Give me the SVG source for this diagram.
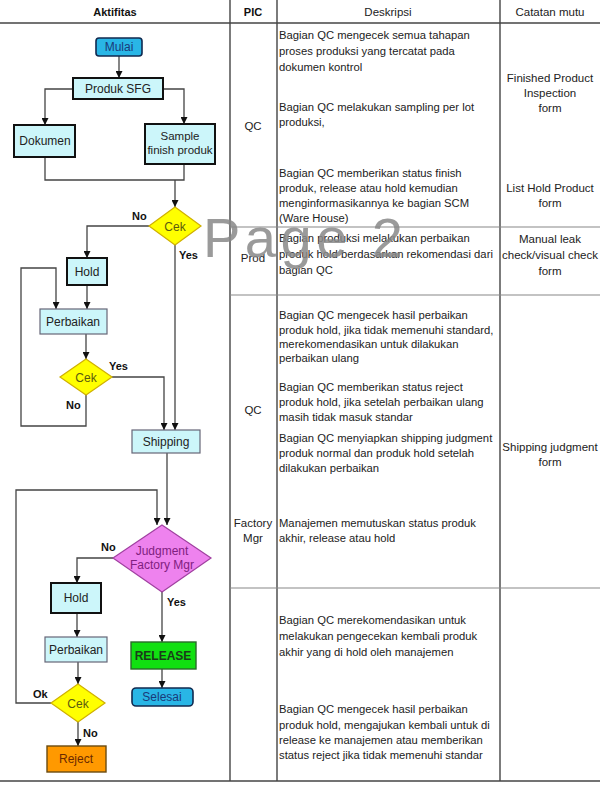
<svg xmlns="http://www.w3.org/2000/svg" width="600" height="812" viewBox="0 0 600 812">
<style>
text{font-family:"Liberation Sans",Arial,sans-serif;}
.hd{font-size:11px;font-weight:bold;fill:#111;text-anchor:middle;}
.hn{font-size:11.5px;fill:#222;text-anchor:middle;}
.d{font-size:11.25px;fill:#222;}
.c{font-size:11.5px;fill:#222;text-anchor:middle;}
.grid{stroke:#444;stroke-width:1.4;fill:none;}
.row{stroke:#888;stroke-width:1.2;fill:none;}
.box{fill:#ccf6fa;stroke:#111;stroke-width:2;}
.boxt{fill:#ccf6fa;stroke:#667;stroke-width:1.2;}
.term{fill:#29b6e6;stroke:#102a50;stroke-width:1.6;}
.dia{fill:#ffff00;stroke:#d0b000;stroke-width:1.2;}
.nt{font-size:12px;fill:#222;text-anchor:middle;}
.tt{font-size:12px;fill:#1a3a7a;text-anchor:middle;}
.ct{font-size:12px;fill:#5a5a10;text-anchor:middle;}
.lb{font-size:11px;font-weight:bold;fill:#111;}
.conn{stroke:#444;stroke-width:1.3;fill:none;}
</style>
<defs>
<marker id="ah" markerUnits="userSpaceOnUse" markerWidth="7" markerHeight="7" refX="7" refY="3.5" orient="auto">
<path d="M0,0 L7,3.5 L0,7 z" fill="#111"/>
</marker>
</defs>
<rect width="600" height="812" fill="#fff"/>

<g id="table">
<line class="grid" x1="0" y1="23" x2="600" y2="23"/>
<line class="grid" x1="0" y1="781" x2="600" y2="781"/>
<line class="grid" x1="230" y1="0" x2="230" y2="781"/>
<line class="grid" x1="277" y1="0" x2="277" y2="781"/>
<line class="grid" x1="500" y1="0" x2="500" y2="781"/>
<line class="row" x1="230" y1="227" x2="600" y2="227"/>
<line class="row" x1="230" y1="295" x2="600" y2="295"/>
<line class="row" x1="230" y1="588" x2="600" y2="588"/>
<text class="hd" x="115" y="16">Aktifitas</text>
<text class="hd" x="253" y="16">PIC</text>
<text class="hn" x="388" y="16">Deskripsi</text>
<text class="hn" x="550" y="16">Catatan mutu</text>
</g>

<g id="pic">
<text class="c" x="253" y="130">QC</text>
<text class="c" x="253" y="262">Prod</text>
<text class="c" x="253" y="414">QC</text>
<text class="c" x="253" y="527">Factory</text>
<text class="c" x="253" y="542">Mgr</text>
</g>

<g id="deskripsi">
<text class="d" x="279" y="39">Bagian QC mengecek semua tahapan</text>
<text class="d" x="279" y="55">proses produksi yang tercatat pada</text>
<text class="d" x="279" y="71">dokumen kontrol</text>
<text class="d" x="279" y="111">Bagian QC melakukan sampling per lot</text>
<text class="d" x="279" y="126">produksi,</text>
<text class="d" x="279" y="177">Bagian QC memberikan status finish</text>
<text class="d" x="279" y="192">produk, release atau hold kemudian</text>
<text class="d" x="279" y="207">menginformasikannya ke bagian SCM</text>
<text class="d" x="279" y="222">(Ware House)</text>
<text class="d" x="279" y="242">Bagian produksi melakukan perbaikan</text>
<text class="d" x="279" y="258">produk hold berdasarkan rekomendasi dari</text>
<text class="d" x="279" y="274">bagian QC</text>
<text class="d" x="279" y="319">Bagian QC mengecek hasil perbaikan</text>
<text class="d" x="279" y="334">produk hold, jika tidak memenuhi standard,</text>
<text class="d" x="279" y="348">merekomendasikan untuk dilakukan</text>
<text class="d" x="279" y="362">perbaikan ulang</text>
<text class="d" x="279" y="391">Bagian QC memberikan status reject</text>
<text class="d" x="279" y="406">produk hold, jika setelah perbaikan ulang</text>
<text class="d" x="279" y="421">masih tidak masuk standar</text>
<text class="d" x="279" y="442">Bagian QC menyiapkan shipping judgment</text>
<text class="d" x="279" y="457">produk normal dan produk hold setelah</text>
<text class="d" x="279" y="472">dilakukan perbaikan</text>
<text class="d" x="279" y="527">Manajemen memutuskan status produk</text>
<text class="d" x="279" y="542">akhir, release atau hold</text>
<text class="d" x="279" y="624">Bagian QC merekomendasikan untuk</text>
<text class="d" x="279" y="640">melakukan pengecekan kembali produk</text>
<text class="d" x="279" y="656">akhir yang di hold oleh manajemen</text>
<text class="d" x="279" y="713">Bagian QC mengecek hasil perbaikan</text>
<text class="d" x="279" y="729">produk hold, mengajukan kembali untuk di</text>
<text class="d" x="279" y="744">release ke manajemen atau memberikan</text>
<text class="d" x="279" y="759">status reject jika tidak memenuhi standar</text>
</g>

<g id="catatan">
<text class="c" x="550" y="82">Finished Product</text>
<text class="c" x="550" y="97">Inspection</text>
<text class="c" x="550" y="112">form</text>
<text class="c" x="550" y="192">List Hold Product</text>
<text class="c" x="550" y="207">form</text>
<text class="c" x="550" y="243">Manual leak</text>
<text class="c" x="550" y="259">check/visual check</text>
<text class="c" x="550" y="275">form</text>
<text class="c" x="550" y="451">Shipping judgment</text>
<text class="c" x="550" y="466">form</text>
</g>

<g id="connectors">
<path class="conn" d="M119,56 V78" marker-end="url(#ah)"/>
<path class="conn" d="M73,89 H45 V125" marker-end="url(#ah)"/>
<path class="conn" d="M163,89 H184 V124" marker-end="url(#ah)"/>
<path class="conn" d="M45,157 V180 H184 V164"/>
<path class="conn" d="M175,180 V207" marker-end="url(#ah)"/>
<path class="conn" d="M149,226 H87 V258" marker-end="url(#ah)"/>
<path class="conn" d="M175,245 V430" marker-end="url(#ah)"/>
<path class="conn" d="M87,285 V309" marker-end="url(#ah)"/>
<path class="conn" d="M86,334 V359" marker-end="url(#ah)"/>
<path class="conn" d="M112,377 H164 V430" marker-end="url(#ah)"/>
<path class="conn" d="M86,395 V426 H21 V268 H56 V309" marker-end="url(#ah)"/>
<path class="conn" d="M167,453 V525" marker-end="url(#ah)"/>
<path class="conn" d="M51,703 H16 V490 H157 V525" marker-end="url(#ah)"/>
<path class="conn" d="M113,558 H77 V583" marker-end="url(#ah)"/>
<path class="conn" d="M77,613 V637" marker-end="url(#ah)"/>
<path class="conn" d="M78,662 V684" marker-end="url(#ah)"/>
<path class="conn" d="M78,722 V746" marker-end="url(#ah)"/>
<path class="conn" d="M162,592 V642" marker-end="url(#ah)"/>
<path class="conn" d="M162,669 V688" marker-end="url(#ah)"/>
<text class="lb" x="132" y="220">No</text>
<text class="lb" x="179" y="259">Yes</text>
<text class="lb" x="109" y="370">Yes</text>
<text class="lb" x="66" y="409">No</text>
<text class="lb" x="101" y="551">No</text>
<text class="lb" x="167" y="606">Yes</text>
<text class="lb" x="33" y="698">Ok</text>
<text class="lb" x="83" y="737">No</text>
</g>

<g id="mulai"><rect class="term" x="96" y="38" width="46" height="18" rx="3"/><text class="tt" x="119" y="51">Mulai</text></g>
<g id="produk-sfg"><rect class="box" x="73" y="78" width="90" height="21"/><text class="nt" x="118" y="93">Produk SFG</text></g>
<g id="dokumen"><rect class="box" x="14" y="125" width="61" height="32"/><text class="nt" x="45" y="145">Dokumen</text></g>
<g id="sample"><rect class="box" x="145" y="124" width="70" height="40"/><text class="nt" x="180" y="140" style="font-size:11.5px">Sample</text><text class="nt" x="180" y="154" style="font-size:11.5px">finish produk</text></g>
<g id="cek1"><polygon class="dia" points="175,207 201,226 175,245 149,226"/><text class="ct" x="175" y="231">Cek</text></g>
<g id="hold1"><rect class="box" x="67" y="258" width="40" height="27"/><text class="nt" x="87" y="276">Hold</text></g>
<g id="perbaikan1"><rect class="boxt" x="40" y="309" width="67" height="25"/><text class="nt" x="73" y="326">Perbaikan</text></g>
<g id="cek2"><polygon class="dia" points="86,359 112,377 86,395 60,377"/><text class="ct" x="86" y="382">Cek</text></g>
<g id="shipping"><rect class="boxt" x="132" y="430" width="68" height="23"/><text class="nt" x="166" y="446">Shipping</text></g>
<g id="judgment"><polygon points="162,525 211,558 162,592 113,558" fill="#ee82ee" stroke="#a040a0" stroke-width="1.2"/><text class="nt" x="162" y="555" style="fill:#802080">Judgment</text><text class="nt" x="162" y="569" style="fill:#802080">Factory Mgr</text></g>
<g id="hold2"><rect class="box" x="51" y="583" width="50" height="30"/><text class="nt" x="76" y="602">Hold</text></g>
<g id="perbaikan2"><rect class="boxt" x="45" y="637" width="62" height="25"/><text class="nt" x="76" y="654">Perbaikan</text></g>
<g id="cek3"><polygon class="dia" points="78,684 105,703 78,722 51,703"/><text class="ct" x="78" y="708">Cek</text></g>
<g id="reject"><rect x="47" y="746" width="59" height="26" fill="#ff9900" stroke="#6a4a10" stroke-width="1.4"/><text class="nt" x="76" y="763" style="fill:#6a2a00">Reject</text></g>
<g id="release"><rect x="131" y="642" width="65" height="27" fill="#11e011" stroke="#2a6a2a" stroke-width="1.4"/><text class="nt" x="163" y="660" style="font-weight:bold;fill:#1a3a1a">RELEASE</text></g>
<g id="selesai"><rect class="term" x="132" y="688" width="61" height="18" rx="4"/><text class="tt" x="162" y="701">Selesai</text></g>

<g id="watermark"><text x="203" y="257" textLength="200" lengthAdjust="spacing" style="font-size:56px;fill:#888;fill-opacity:0.85">Page 2</text></g>
</svg>
